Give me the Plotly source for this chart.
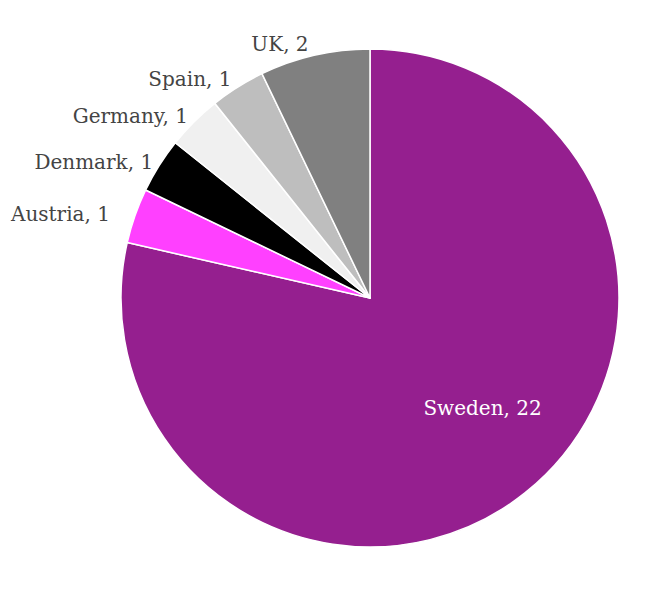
import plotly.graph_objects as go

countries = ["Sweden", "Austria", "Denmark", "Germany", "Spain", "UK"]
counts = [22, 1, 1, 1, 1, 2]
colors = ["#951f8f", "#ff40ff", "#000000", "#f0f0f0", "#bebebe", "#808080"]
positions = ["inside", "outside", "outside", "outside", "outside", "outside"]
text_colors = ["#ffffff", "#444444", "#444444", "#444444", "#444444", "#444444"]
sp = "\u00a0"
base = "%{label}, %{value}"
templates = [sp + "<br>" + sp * 11 + base, base + sp * 3, base, base, base, sp * 4 + base]

W, H = 653, 599
cx, cy, r = 362, 290, 249

fig = go.Figure(go.Pie(
    labels=countries,
    values=counts,
    sort=False,
    direction="clockwise",
    rotation=0,
    automargin=False,
    marker=dict(colors=colors, line=dict(color="#ffffff", width=1.5)),
    texttemplate=templates,
    textposition=positions,
    insidetextorientation="horizontal",
    textfont=dict(family="DejaVu Serif", size=20, color=text_colors),
    showlegend=False,
    hoverinfo="label+value",
    domain=dict(x=[(cx - r) / W, (cx + r) / W], y=[1 - (cy + r) / H, 1 - (cy - r) / H]),
))
fig.update_layout(
    width=W, height=H,
    margin=dict(l=0, r=0, t=0, b=0, autoexpand=False),
    paper_bgcolor="#ffffff",
    plot_bgcolor="#ffffff",
)
fig.write_html("out.html")
